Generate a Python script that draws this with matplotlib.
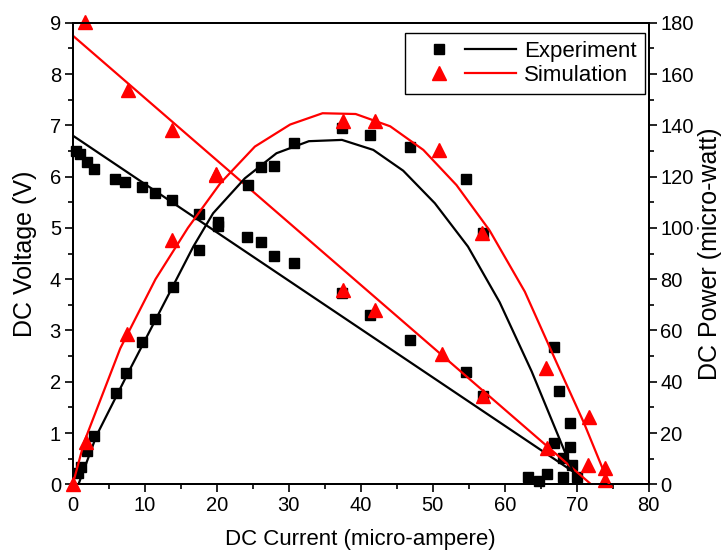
import matplotlib
matplotlib.use("Agg")
import matplotlib.pyplot as plt
from matplotlib.lines import Line2D
from matplotlib.legend_handler import HandlerTuple
from matplotlib.ticker import MultipleLocator

plt.rcParams['font.family'] = ['Liberation Sans', 'DejaVu Sans']

# measured points (current in micro-ampere)
i_v_exp = [0.5, 1.0, 2.0, 3.0, 5.9, 7.3, 9.6, 11.4, 13.8, 17.6, 20.2, 24.2, 26.1,
           27.9, 30.8, 37.4, 41.3, 46.9, 54.6, 57.0, 66.8, 68.1, 69.3, 63.3, 64.8,
           65.9, 68.1, 70.1]
v_exp = [6.50, 6.44, 6.29, 6.14, 5.96, 5.90, 5.79, 5.68, 5.54, 5.28, 5.12, 4.83, 4.72,
         4.46, 4.31, 3.73, 3.30, 2.81, 2.18, 1.72, 0.81, 0.51, 0.38, 0.15, 0.07,
         0.20, 0.15, 0.15]
i_p_exp = [0.8, 1.1, 2.0, 3.0, 6.0, 7.4, 9.6, 11.4, 13.9, 17.6, 20.2, 24.4, 26.2,
           27.9, 30.8, 37.4, 41.3, 46.9, 54.6, 57.0, 66.8, 67.5, 69.1, 69.1]
p_exp = [4.3, 6.9, 13.1, 19.0, 35.5, 43.5, 55.6, 64.5, 76.8, 91.4, 100.7, 116.7, 123.9,
         124.3, 133.0, 138.8, 136.3, 131.4, 119.1, 98.0, 53.4, 36.5, 23.8, 14.4]

# simulated points
i_v_sim = [1.7, 7.7, 13.75, 19.9, 37.6, 42.0, 51.3, 57.0, 65.9, 71.6, 74.0]
v_sim = [9.02, 7.69, 6.91, 6.06, 3.79, 3.40, 2.55, 1.72, 0.70, 0.38, 0.08]
i_p_sim = [0.0, 1.85, 7.6, 13.75, 19.9, 37.6, 42.0, 50.9, 56.9, 65.8, 71.7, 74.0]
p_sim = [0.0, 16.6, 58.6, 95.3, 120.8, 141.8, 141.8, 130.4, 97.9, 45.2, 26.1, 6.2]

# curves
i_vline_exp = [0, 70]
vline_exp = [6.8, 0.2]
i_vline_sim = [0, 72]
vline_sim = [8.75, 0]
i_pline_exp = [0.8, 3.3, 7.7, 13.5, 16.75, 19.5, 23.9, 28.3, 32.8, 37.4, 41.75, 45.9,
               50.3, 54.9, 59.3, 63.75, 68.6, 70.0]
pline_exp = [0, 19, 43.5, 75, 92.7, 105.7, 119.3, 129.1, 133.8, 134.3, 130.4, 122.3,
             109.6, 92.7, 71, 44, 11, 1.5]
i_pline_sim = [0, 1.6, 6.6, 11.5, 16.0, 20.5, 25.3, 30.2, 34.7, 39.3, 44.1, 48.7, 53.3,
               57.9, 62.8, 67.2, 71.0, 74.5]
pline_sim = [0, 16.6, 53, 80, 100, 117.4, 131.7, 140.3, 144.7, 144.4, 139.6, 130.4,
             116.7, 99, 75.1, 47.5, 24, 0]

fig = plt.figure(figsize=(7.23, 5.54), dpi=100)
ax = fig.add_axes([0.1006, 0.1258, 0.7966, 0.8332])
ax2 = ax.twinx()

lw = 1.6
sq = dict(marker='s', ms=7.2, color='black', ls='none', clip_on=False)
tri = dict(marker='^', ms=9.5, color='red', ls='none', clip_on=False)

ax.plot(i_v_exp, v_exp, **sq, zorder=3)
ax2.plot(i_p_exp, p_exp, **sq, zorder=3)
ax.plot(i_vline_exp, vline_exp, color='black', lw=lw, zorder=4)
ax2.plot(i_pline_exp, pline_exp, color='black', lw=lw, zorder=4)
ax.plot(i_v_sim, v_sim, **tri, zorder=5)
ax2.plot(i_p_sim, p_sim, **tri, zorder=5)
ax.plot(i_vline_sim, vline_sim, color='red', lw=lw, zorder=6)
ax2.plot(i_pline_sim, pline_sim, color='red', lw=lw, zorder=6)

ax.set_xlim(0, 80)
ax.set_ylim(0, 9)
ax2.set_ylim(0, 180)

ax.xaxis.set_major_locator(MultipleLocator(10))
ax.xaxis.set_minor_locator(MultipleLocator(5))
ax.yaxis.set_major_locator(MultipleLocator(1))
ax.yaxis.set_minor_locator(MultipleLocator(0.5))
ax2.yaxis.set_major_locator(MultipleLocator(20))
ax2.yaxis.set_minor_locator(MultipleLocator(10))

for a in (ax, ax2):
    for s in a.spines.values():
        s.set_linewidth(1.4)
    a.tick_params(which='major', direction='out', length=6, width=1.2,
                  labelsize=14.5, pad=2.5)
    a.tick_params(which='minor', direction='out', length=3.5, width=1.2)
ax.tick_params(top=False, right=False, which='both')

ax.set_xlabel("DC Current (micro-ampere)", fontsize=16, labelpad=10)
ax.set_ylabel("DC Voltage (V)", fontsize=18, labelpad=9)
ax2.set_ylabel("DC Power (micro-watt)", fontsize=18, labelpad=3)

h_exp = (Line2D([], [], marker='s', ms=7.2, color='black', ls='none'),
         Line2D([], [], color='black', lw=lw))
h_sim = (Line2D([], [], marker='^', ms=9.5, color='red', ls='none'),
         Line2D([], [], color='red', lw=lw))
leg = ax2.legend([h_exp, h_sim], ["Experiment", "Simulation"],
                 handler_map={tuple: HandlerTuple(ndivide=None, pad=0)},
                 loc='upper right', bbox_to_anchor=(0.892, 0.941),
                 bbox_transform=fig.transFigure, borderaxespad=0,
                 fontsize=16, handlelength=4.6, handletextpad=0.35,
                 labelspacing=0.12, borderpad=0.38, fancybox=False,
                 framealpha=1, edgecolor='black')
leg.get_frame().set_linewidth(1.0)

fig.savefig("out.png", dpi=100)
